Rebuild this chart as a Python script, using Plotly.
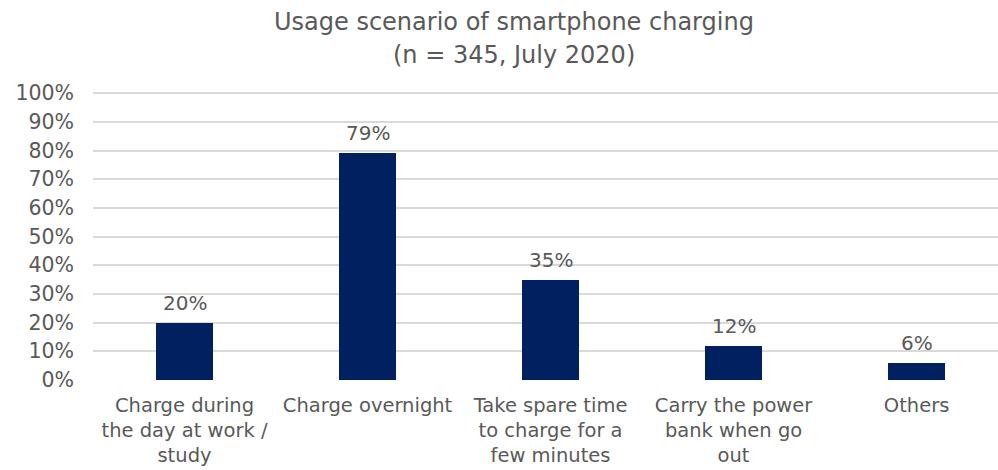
import plotly.graph_objects as go

# Survey results: usage scenarios of smartphone charging
categories = [
    "Charge during<br>the day at work /<br>study",
    "Charge overnight",
    "Take spare time<br>to charge for a<br>few minutes",
    "Carry the power<br>bank when go<br>out",
    "Others",
]
shares = [20, 79, 35, 12, 6]  # percent of respondents
y_ticks = list(range(0, 101, 10))
y_tick_labels = [f"{v}%" for v in y_ticks]
title_lines = ["Usage scenario of smartphone charging", "(n = 345, July 2020)"]

BAR_COLOR = "#002060"
TEXT_COLOR = "#595959"
GRID_COLOR = "#d9d9d9"
FONT = "DejaVu Sans, Verdana, sans-serif"

x_pos = list(range(len(categories)))

fig = go.Figure(
    go.Bar(
        x=x_pos,
        y=shares,
        width=0.31,
        marker=dict(color=BAR_COLOR, line=dict(width=0)),
        hoverinfo="skip",
    )
)

# value labels above each bar
for xi, v in zip(x_pos, shares):
    fig.add_annotation(
        x=xi, y=v, text=f"{v}%", showarrow=False,
        xref="x", yref="y", yanchor="bottom", yshift=6,
        font=dict(family=FONT, size=20, color=TEXT_COLOR),
    )

# two-line chart title
for line, ypos in zip(title_lines, [1.243, 1.13]):
    fig.add_annotation(
        x=0.465, y=ypos, xref="paper", yref="paper",
        xanchor="center", yanchor="middle", showarrow=False,
        text=line, font=dict(family=FONT, size=24, color=TEXT_COLOR),
    )

fig.update_layout(
    width=998,
    height=470,
    margin=dict(l=93, r=0, t=92, b=90),
    paper_bgcolor="white",
    plot_bgcolor="white",
    showlegend=False,
    bargap=0,
    font=dict(family=FONT, color=TEXT_COLOR),
    xaxis=dict(
        range=[-0.5, 4.445],
        tickmode="array",
        tickvals=x_pos,
        ticktext=categories,
        tickfont=dict(family=FONT, size=19.5, color=TEXT_COLOR),
        showgrid=False,
        zeroline=False,
        showline=False,
        ticks="",
        ticklabelstandoff=11,
        automargin=False,
    ),
    yaxis=dict(
        range=[0, 100.4],
        tickmode="array",
        tickvals=y_ticks,
        ticktext=y_tick_labels,
        tickfont=dict(family=FONT, size=20.5, color=TEXT_COLOR),
        showgrid=True,
        gridcolor=GRID_COLOR,
        gridwidth=1.5,
        zeroline=False,
        showline=False,
        ticks="",
        ticklabelstandoff=18,
        automargin=False,
    ),
)

fig.write_html("out.html")
